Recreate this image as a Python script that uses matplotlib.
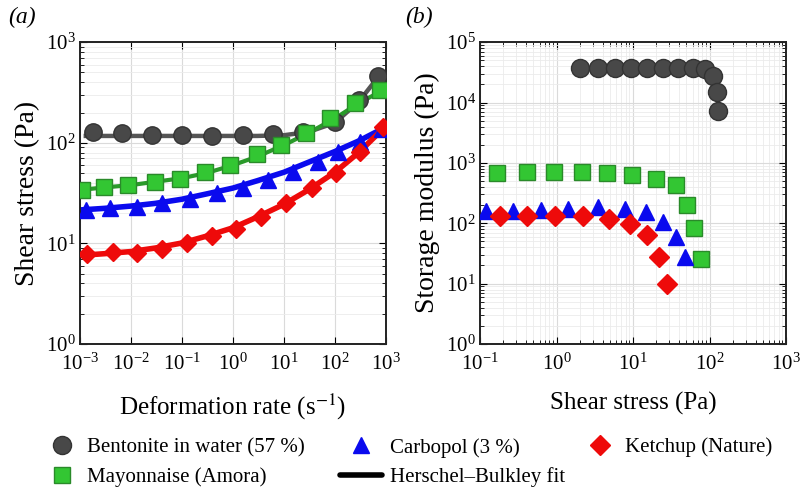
import numpy as np
import matplotlib.pyplot as plt
from matplotlib.lines import Line2D

plt.rcParams['font.family'] = ['Liberation Serif', 'DejaVu Serif']
plt.rcParams['mathtext.fontset'] = 'stix'

# (a) flow curves: shear stress vs deformation rate
bent_rate = [0.0018, 0.0066, 0.026, 0.1, 0.38, 1.58, 6.2, 24, 100, 290, 700]
bent_stress = [128, 124, 120, 119, 118, 119, 121, 128, 162, 265, 457]
mayo_rate = [0.0011, 0.0029, 0.0089, 0.029, 0.091, 0.28, 0.87, 2.9, 8.9, 27.5, 79, 245, 760]
mayo_stress = [34, 36.5, 38, 41, 44, 51, 60, 77, 95, 124, 177, 246, 334]
carb_rate = [0.0013, 0.0039, 0.013, 0.04, 0.145, 0.48, 1.58, 4.9, 15, 47, 115, 310, 850]
carb_stress = [21.5, 22.3, 23.1, 25.3, 27.4, 31.4, 35.2, 42.6, 51.5, 64.6, 81, 102, 138]
ketch_rate = [0.0014, 0.0044, 0.013, 0.04, 0.126, 0.38, 1.17, 3.6, 11, 35, 107, 316, 890]
ketch_stress = [7.85, 8.2, 8.0, 8.9, 10.2, 11.9, 13.8, 18.4, 25.1, 35.3, 50.3, 81, 144]

# Herschel-Bulkley fit curves
fit_rate = [0.001, 0.003, 0.01, 0.03, 0.1, 0.3, 1, 3, 10, 30, 100, 300, 900]
bent_fit_rate = [0.0013, 0.003, 0.01, 0.03, 0.1, 0.3, 1, 3, 10, 30, 100, 300, 700]
bent_fit = [117, 117, 117, 117, 117, 117, 117, 117, 119, 128, 158, 260, 450]
mayo_fit = [34, 36, 38, 41, 44.5, 50, 60, 73, 95, 125, 175, 250, 335]
carb_fit = [21.5, 22.3, 23.5, 25, 27.5, 31, 35.5, 42, 51, 64, 82, 105, 140]
ketch_fit = [7.6, 7.9, 8.3, 9.0, 10.1, 11.8, 14.3, 18.3, 24.5, 34, 51, 81, 140]

# (b) storage modulus vs shear stress
bent_tau = [2.03, 3.5, 5.8, 9.3, 15.4, 24.9, 39, 60, 87, 112, 124, 130]
bent_G = [36700, 36700, 36700, 36700, 36700, 36700, 36700, 36700, 35300, 27300, 15000, 7200]
mayo_tau = [0.165, 0.41, 0.93, 2.13, 4.6, 9.6, 20, 36.5, 51, 63, 77]
mayo_G = [686, 713, 713, 713, 670, 628, 533, 429, 200, 84, 26]
carb_tau = [0.12, 0.27, 0.62, 1.43, 3.5, 7.85, 14.8, 24.9, 36.5, 47.9]
carb_G = [161, 161, 165, 170, 183, 172, 151, 106, 60, 28]
ketch_tau = [0.18, 0.41, 0.955, 2.2, 4.9, 9.1, 15.1, 22, 27.5]
ketch_G = [131, 131, 131, 131, 120, 97, 64, 28, 9.8]

grey = '#484848'
green = '#33c633'
blue = '#0a0aee'
red = '#ee0a0a'

fig = plt.figure(figsize=(8, 4.94), dpi=100)
ax1 = fig.add_axes([0.1, 0.3036, 0.3825, 0.611])
ax2 = fig.add_axes([0.6, 0.3036, 0.3825, 0.611])

# fit lines first, markers on top
ax1.plot(bent_fit_rate, bent_fit, color='#555555', lw=3.2, zorder=2)
ax1.plot(fit_rate, mayo_fit, color='#2a9a2a', lw=3, zorder=2)
ax1.plot(fit_rate, carb_fit, color=blue, lw=4, zorder=2)
ax1.plot(fit_rate, ketch_fit, color=red, lw=4, zorder=2)

ax1.plot(bent_rate, bent_stress, 'o', ms=12.5, mfc=grey, mec='#333333', zorder=3)
ax1.plot(mayo_rate, mayo_stress, 's', ms=11, mfc=green, mec='#2a8a2a', zorder=3)
ax1.plot(carb_rate, carb_stress, '^', ms=11, mfc=blue, mec=blue, zorder=4)
ax1.plot(ketch_rate, ketch_stress, 'D', ms=9.5, mfc=red, mec=red, zorder=4)

ax2.plot(bent_tau, bent_G, 'o', ms=13, mfc=grey, mec='#333333', zorder=3)
ax2.plot(mayo_tau, mayo_G, 's', ms=12, mfc=green, mec='#2a8a2a', zorder=3)
ax2.plot(carb_tau, carb_G, '^', ms=12, mfc=blue, mec=blue, zorder=3)
ax2.plot(ketch_tau, ketch_G, 'D', ms=10, mfc=red, mec=red, zorder=4)

for ax in (ax1, ax2):
    ax.set_xscale('log')
    ax.set_yscale('log')
    ax.grid(True, which='major', color='#dadada', lw=0.8)
    ax.grid(True, which='minor', color='#ebebeb', lw=0.6)
    ax.tick_params(which='both', direction='in', top=True, right=True, labelsize=15)
    ax.tick_params(which='major', length=5)
    ax.tick_params(which='minor', length=3)
    ax.tick_params(axis='x', pad=7)
    ax.tick_params(axis='y', pad=3)
    for s in ax.spines.values():
        s.set_linewidth(1.4)
        s.set_color('#222222')

ax1.set_xlim(1e-3, 1e3)
ax1.set_ylim(1e0, 1e3)
ax1.set_xticks([1e-3, 1e-2, 1e-1, 1e0, 1e1, 1e2, 1e3])
ax1.set_yticks([1e0, 1e1, 1e2, 1e3])
ax1.set_xlabel(r'Deformation rate (s$^{-1}$)', fontsize=18, labelpad=12)
ax1.set_ylabel('Shear stress (Pa)', fontsize=20, labelpad=4)

ax2.set_xlim(1e-1, 1e3)
ax2.set_ylim(1e0, 1e5)
ax2.set_xticks([1e-1, 1e0, 1e1, 1e2, 1e3])
ax2.set_yticks([1e0, 1e1, 1e2, 1e3, 1e4, 1e5])
ax2.set_xlabel('Shear stress (Pa)', fontsize=18, labelpad=12)
ax2.set_ylabel('Storage modulus (Pa)', fontsize=20, labelpad=4)

fig.text(0.01, 0.965, '(a)', fontsize=17, style='italic', va='center')
fig.text(0.507, 0.965, '(b)', fontsize=17, style='italic', va='center')

h_bent = Line2D([], [], ls='none', marker='o', ms=13, mfc=grey, mec='#333333')
h_mayo = Line2D([], [], ls='none', marker='s', ms=11.5, mfc=green, mec='#2a8a2a')
h_carb = Line2D([], [], ls='none', marker='^', ms=11, mfc=blue, mec=blue)
h_fit = Line2D([], [], color='black', lw=4, solid_capstyle='round')
h_ketch = Line2D([], [], ls='none', marker='D', ms=10, mfc=red, mec=red)

leg_kw = dict(loc='center left', frameon=False, fontsize=15, handlelength=2,
              labelspacing=0.45, borderpad=0, borderaxespad=0)
fig.legend([h_bent, h_mayo], ['Bentonite in water (57 %)', 'Mayonnaise (Amora)'],
           bbox_to_anchor=(0.0515, 0.0638), handletextpad=0.2, **leg_kw)
fig.legend([h_carb, h_fit], ['Carbopol (3 %)', 'Herschel–Bulkley fit'],
           bbox_to_anchor=(0.425, 0.0638), handletextpad=0.4, **leg_kw)
fig.legend([h_ketch], ['Ketchup (Nature)'],
           bbox_to_anchor=(0.724, 0.095), handletextpad=0.2, **leg_kw)

fig.savefig('out.png', dpi=100)
